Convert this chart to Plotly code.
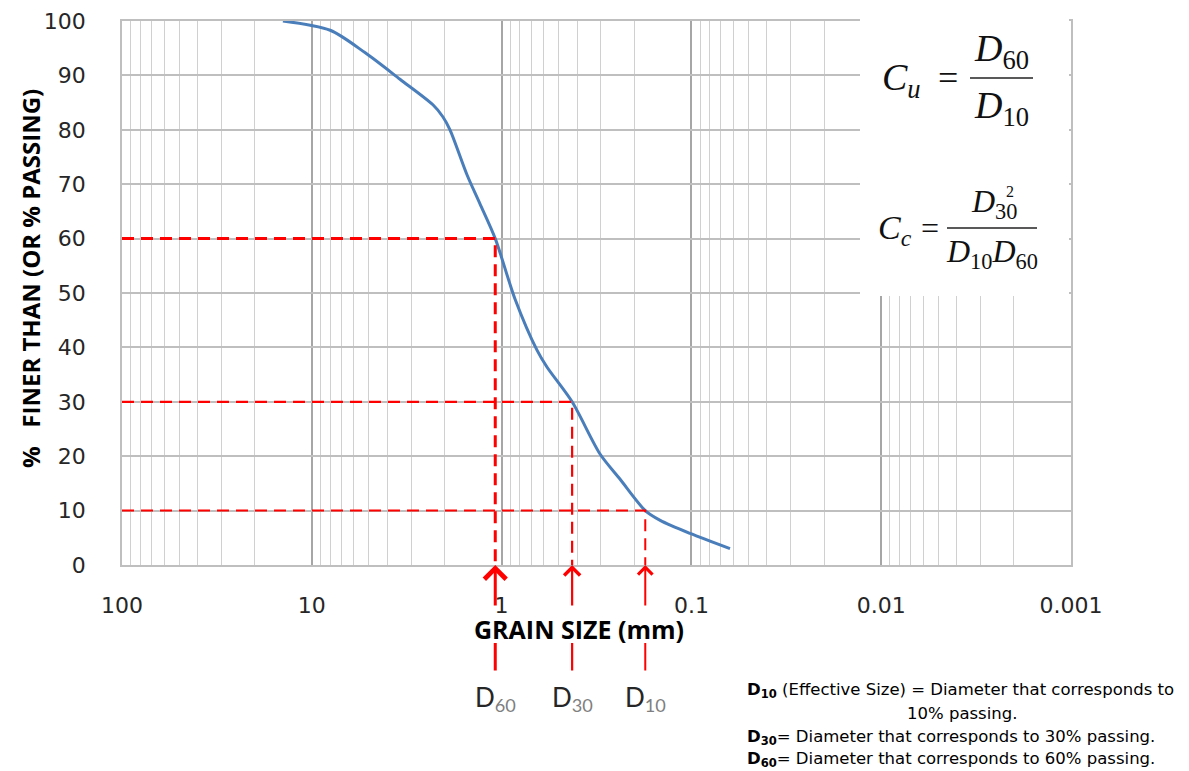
import math
import plotly.graph_objects as go

# ---------------- data ----------------
grain_size_mm = [14.2, 8.0, 5.25, 3.43, 2.30, 2.04, 1.87, 1.52, 1.30, 1.08,
                 0.85, 0.651, 0.577, 0.425, 0.303, 0.238, 0.175, 0.146, 0.1016, 0.0626]
percent_finer = [100, 98.3, 94.2, 89.3, 84.6, 82.4, 80, 71.7, 66.4, 60,
                 48.9, 39.5, 36.4, 30, 20.4, 15.8, 10, 8.2, 5.8, 3.0]

d_subscripts = ["60", "30", "10"]
d_percent = [60, 30, 10]
d_size_mm = [1.08, 0.425, 0.175]

x_tick_vals = [100, 10, 1, 0.1, 0.01, 0.001]
x_tick_text = ["100", "10", "1", "0.1", "0.01", "0.001"]
y_tick_vals = [0, 10, 20, 30, 40, 50, 60, 70, 80, 90, 100]

# ---------------- geometry (page pixels; page body has an 8px margin) ----------------
W, H = 1189, 771
OFF = 8
L, R, T, B = 122, 1071, 21, 565


def px(x):
    return (x - L) / (R - L)


def py(y):
    return (B - y) / (B - T)


fig = go.Figure()

fig.add_trace(go.Scatter(
    x=grain_size_mm, y=percent_finer, mode="lines",
    line=dict(color="#4A7EBB", width=3, shape="spline", smoothing=0.8),
    hoverinfo="skip", showlegend=False))

line_widths = [3, 2.2, 2]
for d, p, w in zip(d_size_mm, d_percent, line_widths):
    fig.add_trace(go.Scatter(
        x=[x_tick_vals[0], d, d], y=[p, p, 0], mode="lines",
        line=dict(color="#FF0000", width=w, dash="12px,7px"),
        hoverinfo="skip", showlegend=False))

annotations = []
shapes = []

# arrows, short segments and D labels
for d, sub, w in zip(d_size_mm, d_subscripts, line_widths):
    lx = math.log10(d)
    annotations.append(dict(x=lx, y=0, xref="x", yref="y", text="", showarrow=True,
                            ax=0, ay=42, arrowhead=4, arrowsize=1.4, arrowwidth=w,
                            arrowcolor="#FF0000", standoff=0))
    annotations.append(dict(x=lx, y=py(643), xref="x", yref="paper", text="", showarrow=True,
                            ax=0, ay=29, arrowhead=0, arrowwidth=w, arrowcolor="#FF0000",
                            standoff=0))
    annotations.append(dict(x=lx, y=py(698), xref="x", yref="paper", showarrow=False,
                            text="D<sub><span style='color:#7f7f7f'>" + sub + "</span></sub>",
                            font=dict(family="Lato", size=26, color="#262626"),
                            xanchor="center", yanchor="middle"))

# axis titles
annotations.append(dict(x=px(579), y=py(629), xref="paper", yref="paper", showarrow=False,
                        text="<b>GRAIN SIZE (mm)</b>",
                        font=dict(family="Open Sans", size=25, color="#000000"),
                        xanchor="center", yanchor="middle"))
annotations.append(dict(x=px(30), y=py(279), xref="paper", yref="paper", showarrow=False,
                        text="<b>%&nbsp;&nbsp;&nbsp;FINER THAN (OR % PASSING)</b>", textangle=-90,
                        font=dict(family="Open Sans", size=24, color="#000000"),
                        xanchor="center", yanchor="middle"))

# formula box
shapes.append(dict(type="rect", xref="paper", yref="paper", x0=px(860), x1=px(1069),
                   y0=py(296), y1=py(T - 2), fillcolor="white", line=dict(width=0), layer="above"))

serif = "Liberation Serif"
annotations += [
    dict(x=px(880), y=py(80), text="<i>C</i><sub><i>u</i></sub>", xanchor="left", yanchor="middle",
         font=dict(family=serif, size=38, color="#111")),
    dict(x=px(948), y=py(78), text="=", xanchor="center", yanchor="middle",
         font=dict(family=serif, size=36, color="#111")),
    dict(x=px(1001), y=py(77), text="<i>D</i><sub>60</sub>", xanchor="center", yanchor="bottom",
         font=dict(family=serif, size=38, color="#111")),
    dict(x=px(1001), y=py(82), text="<i>D</i><sub>10</sub>", xanchor="center", yanchor="top",
         font=dict(family=serif, size=38, color="#111")),
    dict(x=px(876), y=py(230), text="<i>C</i><sub><i>c</i></sub>", xanchor="left", yanchor="middle",
         font=dict(family=serif, size=34, color="#111")),
    dict(x=px(930), y=py(228), text="=", xanchor="center", yanchor="middle",
         font=dict(family=serif, size=32, color="#111")),
    dict(x=px(994), y=py(226), text="<i>D</i><sub>30</sub>", xanchor="center", yanchor="bottom",
         font=dict(family=serif, size=32, color="#111")),
    dict(x=px(1004), y=py(191), text="2", xanchor="left", yanchor="middle",
         font=dict(family=serif, size=16, color="#111")),
    dict(x=px(992), y=py(231), text="<i>D</i><sub>10</sub><i>D</i><sub>60</sub>", xanchor="center",
         yanchor="top", font=dict(family=serif, size=32, color="#111")),
]
for a in annotations[-9:]:
    a.update(xref="paper", yref="paper", showarrow=False)

shapes.append(dict(type="line", xref="paper", yref="paper", x0=px(970), x1=px(1033),
                   y0=py(78), y1=py(78), line=dict(color="#222", width=1.5), layer="above"))
shapes.append(dict(type="line", xref="paper", yref="paper", x0=px(947), x1=px(1037),
                   y0=py(228), y1=py(228), line=dict(color="#222", width=1.5), layer="above"))

# explanatory notes
note_font = dict(family="DejaVu Sans", size=16.5, color="#000000")
annotations += [
    dict(x=px(745), y=py(690), text="<b>D<sub>10</sub></b> (Effective Size) = Diameter that corresponds to",
         xanchor="left", yanchor="middle"),
    dict(x=px(962), y=py(713), text="10% passing.", xanchor="center", yanchor="middle"),
    dict(x=px(745), y=py(737), text="<b>D<sub>30</sub></b>= Diameter that corresponds to 30% passing.",
         xanchor="left", yanchor="middle"),
    dict(x=px(745), y=py(759), text="<b>D<sub>60</sub></b>= Diameter that corresponds to 60% passing.",
         xanchor="left", yanchor="middle"),
]
for a in annotations[-4:]:
    a.update(xref="paper", yref="paper", showarrow=False, font=note_font)

fig.update_layout(
    width=W, height=H,
    margin=dict(l=L - OFF, r=W - (R - OFF), t=T - OFF, b=H - (B - OFF), pad=0, autoexpand=False),
    paper_bgcolor="white", plot_bgcolor="white",
    showlegend=False,
    annotations=annotations,
    shapes=shapes,
    xaxis=dict(type="log", range=[math.log10(x_tick_vals[0]), math.log10(x_tick_vals[-1])],
               tickmode="array", tickvals=x_tick_vals, ticktext=x_tick_text,
               showgrid=True, gridcolor="#a6a6a6", gridwidth=1.5,
               minor=dict(dtick="D1", showgrid=True, gridcolor="#d0d0d0", gridwidth=1),
               zeroline=False, showline=True, mirror=True, linecolor="#bfbfbf", linewidth=1.5,
               ticks="", ticklabelstandoff=20,
               tickfont=dict(family="DejaVu Sans", size=22, color="#262626")),
    yaxis=dict(range=[0, 100], tickmode="array", tickvals=y_tick_vals,
               showgrid=True, gridcolor="#bfbfbf", gridwidth=1.5,
               zeroline=False, showline=True, mirror=True, linecolor="#bfbfbf", linewidth=1.5,
               ticks="", ticklabelstandoff=30,
               tickfont=dict(family="DejaVu Sans", size=22, color="#262626")),
)

fig.write_html("out.html")
